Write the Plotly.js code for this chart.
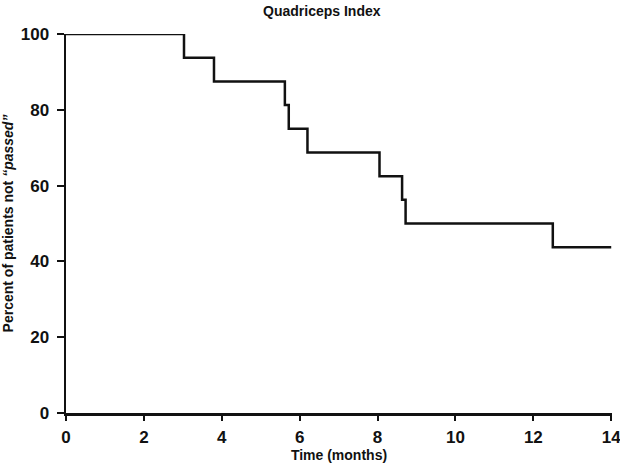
<!DOCTYPE html>
<html>
<head>
<meta charset="utf-8">
<script src="https://cdn.plot.ly/plotly-3.0.1.min.js"></script>
<style>
  body { margin: 0; background: #fff; }
  #graph { width: 620px; height: 464px; }
</style>
</head>
<body>
<div id="graph"></div>
<script>
// Kaplan-Meier style step data
var months = [0, 3.03, 3.8, 5.62, 5.72, 6.2, 8.05, 8.63, 8.72, 12.5, 14];
var percentNotPassed = [100, 93.75, 87.5, 81.25, 75, 68.75, 62.5, 56.25, 50, 43.75, 43.75];
var xTicks = [0, 2, 4, 6, 8, 10, 12, 14];
var yTicks = [0, 20, 40, 60, 80, 100];

var trace = {
    x: months,
    y: percentNotPassed,
    type: 'scatter',
    mode: 'lines',
    line: { color: '#111', width: 2.5, shape: 'hv' },
    hoverinfo: 'skip'
};

var fam = 'Liberation Sans, Arial, sans-serif';

var layout = {
    width: 620,
    height: 464,
    paper_bgcolor: '#fff',
    plot_bgcolor: '#fff',
    showlegend: false,
    margin: { l: 66, r: 8, t: 34, b: 51 },
    title: {
        text: 'Quadriceps Index',
        x: 0.519,
        xanchor: 'center',
        y: 0.977,
        yanchor: 'middle',
        font: { family: fam, color: '#111', size: 14, weight: 'bold' }
    },
    xaxis: {
        range: [0, 14.02],
        tickvals: xTicks,
        ticks: 'outside',
        ticklen: 5,
        tickwidth: 2,
        tickcolor: '#111',
        showline: true,
        linewidth: 2.5,
        linecolor: '#111',
        showgrid: false,
        zeroline: false,
        ticklabeloverflow: 'allow',
        ticklabelstandoff: 2,
        tickfont: { family: fam, color: '#111', size: 17, weight: 'bold' },
        title: {
            text: 'Time (months)',
            standoff: 2,
            font: { family: fam, color: '#111', size: 14, weight: 'bold' }
        }
    },
    yaxis: {
        range: [0, 100],
        tickvals: yTicks,
        ticks: 'outside',
        ticklen: 7,
        tickwidth: 2,
        tickcolor: '#111',
        showline: true,
        linewidth: 2.5,
        linecolor: '#111',
        showgrid: false,
        zeroline: false,
        ticklabelstandoff: 4,
        tickfont: { family: fam, color: '#111', size: 17, weight: 'bold' },
        title: {
            text: 'Percent of patients not <i>\u201cpassed\u201d</i>',
            standoff: 4,
            font: { family: fam, color: '#111', size: 14, weight: 'bold' }
        }
    }
};

Plotly.newPlot('graph', [trace], layout, { displayModeBar: false, staticPlot: true });
</script>
</body>
</html>
